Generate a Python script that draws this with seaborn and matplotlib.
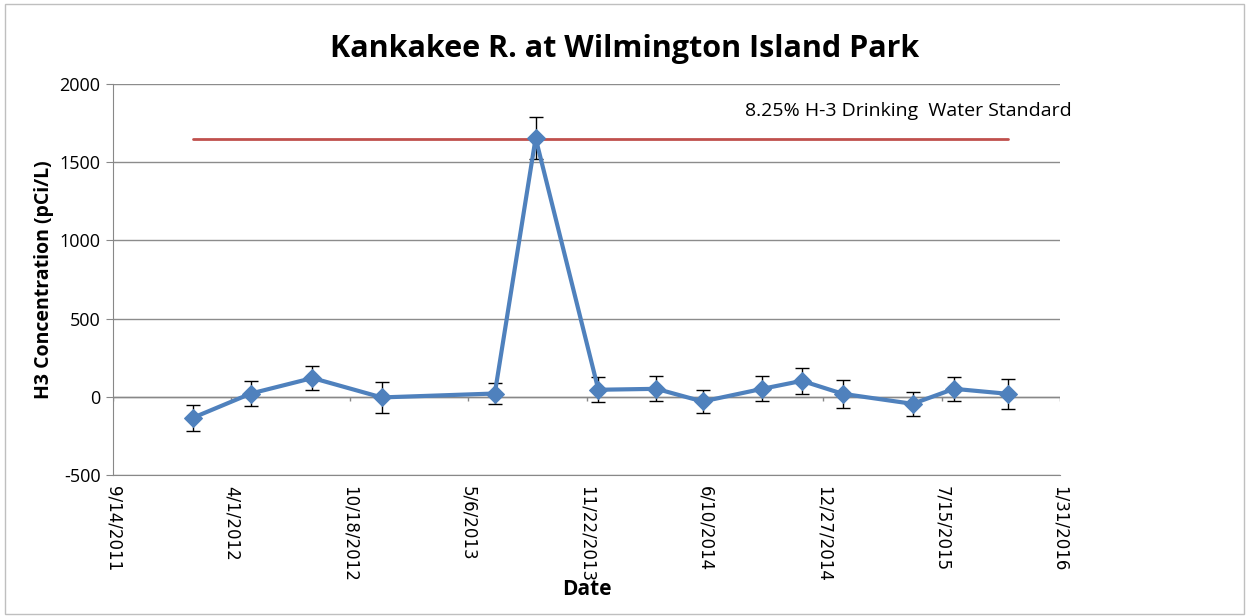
import pandas as pd
import numpy as np
import matplotlib
matplotlib.use("Agg")
import matplotlib.pyplot as plt
import seaborn as sns

# sample data
dates = ["2012-01-27", "2012-05-04", "2012-08-16", "2012-12-11", "2013-06-20",
         "2013-08-28", "2013-12-12", "2014-03-20", "2014-06-06", "2014-09-15",
         "2014-11-21", "2015-01-29", "2015-05-27", "2015-08-05", "2015-11-04"]
h3 = [-134, 21, 120, -4, 21, 1654, 45, 51, -30, 51, 102, 19, -45, 51, 19]
err = [82, 81, 78, 100, 65, 136, 81, 81, 76, 81, 85, 90, 77, 78, 98]
standard = 1650
standard_label = "8.25% H-3 Drinking  Water Standard"

df = pd.DataFrame({"date": pd.to_datetime(dates), "h3": h3, "err": err})

sns.set_style("white")
plt.rcParams["font.family"] = ["DejaVu Sans"]
plt.rcParams["axes.unicode_minus"] = False

fig = plt.figure(figsize=(12.49, 6.16), dpi=100)
ax = fig.add_axes([0.0905, 0.2289, 0.7582, 0.6347])

# chart border like Excel
fig.patches.append(plt.Rectangle((0.004, 0.004), 0.992, 0.99, transform=fig.transFigure,
                                 fill=False, edgecolor="#bfbfbf", lw=1))

# standard line
ax.plot([df["date"].iloc[0], df["date"].iloc[-1]], [standard, standard],
        color="#c0504d", lw=2, zorder=2)

ax.errorbar(df["date"], df["h3"], yerr=df["err"], fmt="none", ecolor="black",
            elinewidth=1, capsize=5, capthick=1, zorder=3)
sns.lineplot(data=df, x="date", y="h3", ax=ax, color="#4f81bd", lw=3,
             marker="D", markersize=9, markeredgecolor="#4f81bd", zorder=4)

x0 = pd.Timestamp("2011-09-14")
ticks = [x0 + pd.Timedelta(days=200 * i) for i in range(9)]
ax.set_xlim(ticks[0], ticks[-1])
ax.set_ylim(-500, 2000)
ax.set_yticks(range(-500, 2001, 500))
ax.set_xticks(ticks)
ax.set_xticklabels([f"{t.month}/{t.day}/{t.year}" for t in ticks], rotation=270,
                   fontsize=12, color="black")
ax.tick_params(axis="x", length=0, pad=8)
ax.tick_params(axis="y", length=5, color="#888888", labelsize=13, left=True, pad=4,
               labelcolor="black")
for lab in ax.get_yticklabels():
    lab.set_family("Open Sans")

# horizontal axis through zero with tick marks
ax.axhline(0, color="#888888", lw=1, zorder=1)
ax.vlines(ticks, -30, 0, color="#888888", lw=1, zorder=1)

ax.yaxis.grid(True, color="#8c8c8c", lw=1)
for s in ["top", "right"]:
    ax.spines[s].set_visible(False)
ax.spines["left"].set_color("#888888")
ax.spines["bottom"].set_color("#888888")

ax.set_xlabel("Date", fontsize=15, fontweight="bold", family="Open Sans", color="black")
ax.xaxis.set_label_coords(0.5, -0.265)
ax.set_ylabel("H3 Concentration (pCi/L)", fontsize=14, fontweight="bold",
              family="Open Sans", color="black")

ax.text(1.012, 0.93, standard_label, transform=ax.transAxes, ha="right", va="center",
        fontsize=14, family="Open Sans", color="black")

fig.text(0.5, 0.92, "Kankakee R. at Wilmington Island Park", ha="center", va="center",
         fontsize=22, fontweight="bold", family="Open Sans", color="black")

fig.savefig("out.png", dpi=100)
